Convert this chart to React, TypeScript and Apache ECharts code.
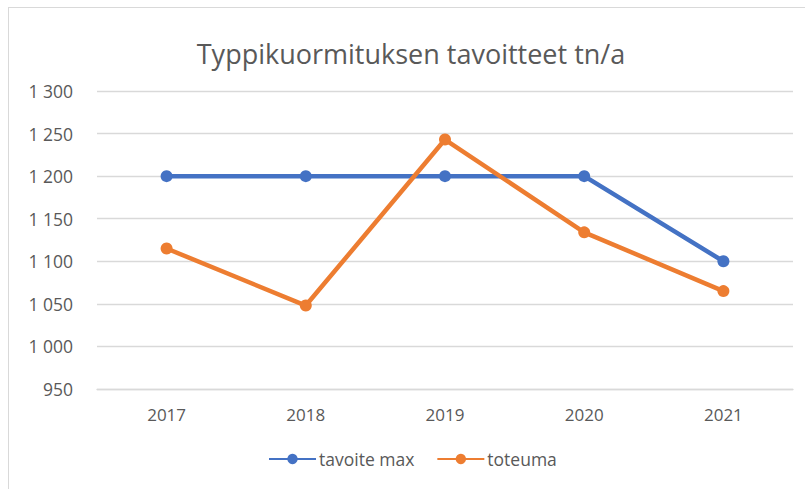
import React, { useEffect, useRef } from "react";
import * as echarts from "echarts";

const categories = ["2017", "2018", "2019", "2020", "2021"];
const tavoiteMax = [1200, 1200, 1200, 1200, 1100];
const toteuma = [1115, 1048, 1243, 1134, 1065];
const yMin = 950;
const yMax = 1300;
const yInterval = 50;

const fmt = (v: number) => {
  const s = String(Math.round(v));
  return s.replace(/\B(?=(\d{3})+(?!\d))/g, " ");
};

const FONT = "'Open Sans', 'Noto Sans', sans-serif";
const TXT = "#595959";

export default function App() {
  const ref = useRef<HTMLDivElement>(null);
  useEffect(() => {
    if (!ref.current) return;
    const chart = echarts.init(ref.current, undefined, { renderer: "svg" });
    chart.setOption({
      animation: false,
      backgroundColor: "#ffffff",
      title: {
        text: "Typpikuormituksen tavoitteet tn/a",
        left: 397,
        textAlign: "center",
        top: 27,
        textStyle: { fontFamily: FONT, fontSize: 27, fontWeight: "normal", color: TXT },
      },
      grid: { left: 88, right: 12, top: 83, bottom: 100, containLabel: false },
      legend: {
        bottom: 21,
        left: 259,
        padding: 0,
        itemWidth: 47,
        itemHeight: 13,
        itemGap: 22,
        textStyle: { fontFamily: FONT, fontSize: 17.5, color: TXT, padding: [0, 0, 0, -2] },
        data: ["tavoite max", "toteuma"],
      },
      xAxis: {
        type: "category",
        data: categories,
        boundaryGap: true,
        axisLine: { show: true, lineStyle: { color: "#d9d9d9", width: 1.3 } },
        axisTick: { show: false },
        axisLabel: { fontFamily: FONT, fontSize: 17, color: TXT, margin: 17 },
      },
      yAxis: {
        type: "value",
        min: yMin,
        max: yMax,
        interval: yInterval,
        axisLine: { show: false },
        axisTick: { show: false },
        splitLine: { lineStyle: { color: "#d9d9d9", width: 1.3 } },
        axisLabel: {
          fontFamily: FONT,
          fontSize: 17.5,
          color: TXT,
          margin: 24,
          formatter: (v: number) => fmt(v),
        },
      },
      series: [
        {
          name: "tavoite max",
          type: "line",
          data: tavoiteMax,
          symbol: "circle",
          symbolSize: 12,
          lineStyle: { color: "#4472C4", width: 4.5 },
          itemStyle: { color: "#4472C4" },
        },
        {
          name: "toteuma",
          type: "line",
          data: toteuma,
          symbol: "circle",
          symbolSize: 12,
          lineStyle: { color: "#ED7D31", width: 4.5 },
          itemStyle: { color: "#ED7D31" },
        },
      ],
    });
    return () => chart.dispose();
  }, []);
  return (
    <div
      ref={ref}
      style={{
        position: "absolute",
        left: 8,
        top: 7,
        width: 797,
        height: 482,
        boxSizing: "border-box",
        borderTop: "1px solid #d9d9d9",
        borderLeft: "1px solid #d9d9d9",
      }}
    />
  );
}
